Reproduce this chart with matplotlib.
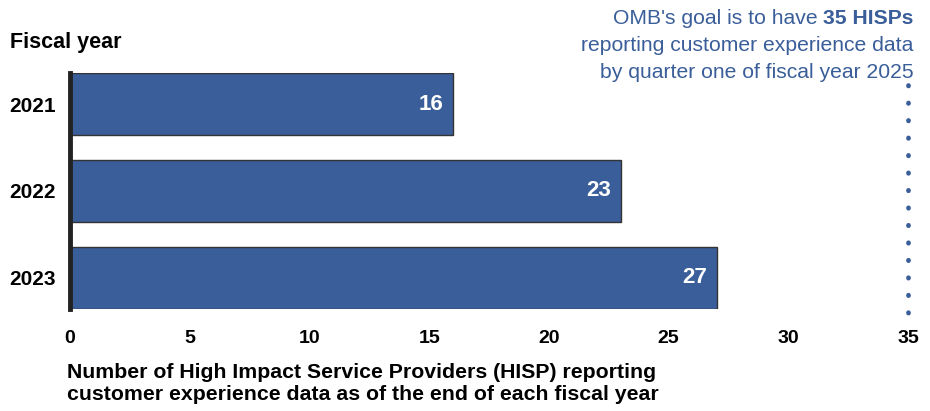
import matplotlib.pyplot as plt
import numpy as np

plt.rcParams['font.family'] = ['Liberation Sans', 'DejaVu Sans']

years = ['2021', '2022', '2023']
hisp_counts = [16, 23, 27]
goal = 35
xticks = [0, 5, 10, 15, 20, 25, 30, 35]

blue = '#3a5e99'

fig = plt.figure(figsize=(9.3, 4.11), dpi=100)
ax = fig.add_axes([0.0753, 0.2482, 0.9011, 0.5742])

y = np.arange(len(years))
ax.barh(y, hisp_counts, height=0.72, color=blue, edgecolor='#333333', linewidth=1)
for yi, v in zip(y, hisp_counts):
    ax.text(v - 0.4, yi, str(v), color='white', fontsize=16, fontweight='bold',
            ha='right', va='center')

ax.set_xlim(0, 35)
ax.set_ylim(2.36, -0.36)
ax.set_yticks(y)
ax.set_yticklabels(years, fontsize=15, fontweight='bold')
ax.set_xticks(xticks)
ax.set_xticklabels([str(t) for t in xticks], fontsize=14, fontweight='bold')
ax.tick_params(axis='both', length=0)
ax.tick_params(axis='x', pad=15)
ax.tick_params(axis='y', pad=10)
for s in ['top', 'right', 'bottom']:
    ax.spines[s].set_visible(False)
ax.spines['left'].set_linewidth(3.5)
ax.spines['left'].set_color('#222222')

# goal line
ax.plot([goal, goal], [-0.22, 2.44], color=blue, linestyle=(0, (0.1, 3.6)),
        linewidth=3.4, dash_capstyle='round', clip_on=False)

fig.text(0.011, 0.897, 'Fiscal year', fontsize=15.5, fontweight='bold', va='center')
fig.text(0.072, 0.067, 'Number of High Impact Service Providers (HISP) reporting\n'
         'customer experience data as of the end of each fiscal year',
         fontsize=15.3, fontweight='bold', va='center', linespacing=1.2)

# goal note, first line has a bold part
r = fig.canvas.get_renderer()
t_bold = fig.text(0.982, 0.955, '35 HISPs', color=blue, fontsize=15.2,
                  fontweight='bold', ha='right', va='center')
bb = t_bold.get_window_extent(renderer=r)
x_left = (bb.x0 - 5) / fig.bbox.width
fig.text(x_left, 0.955, "OMB's goal is to have", color=blue,
         fontsize=15.2, ha='right', va='center')
fig.text(0.982, 0.889, 'reporting customer experience data', color=blue,
         fontsize=15.2, ha='right', va='center')
fig.text(0.982, 0.824, 'by quarter one of fiscal year 2025', color=blue,
         fontsize=15.2, ha='right', va='center')

fig.savefig('out.png', dpi=100)
